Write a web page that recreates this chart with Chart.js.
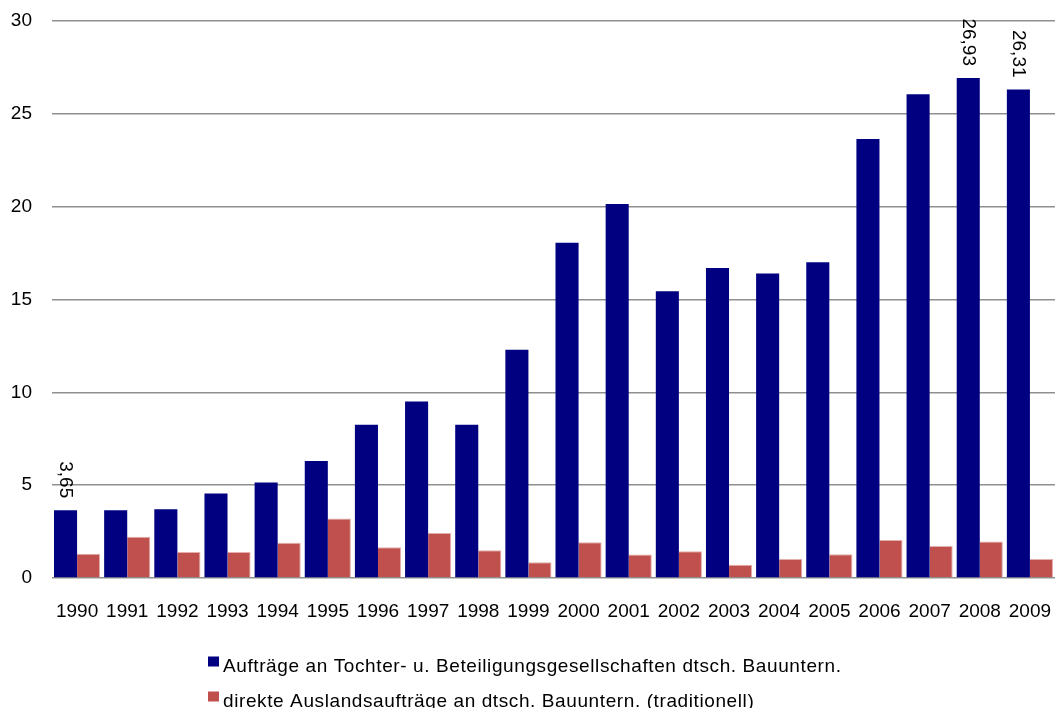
<!DOCTYPE html>
<html>
<head>
<meta charset="utf-8">
<script src="https://cdn.jsdelivr.net/npm/chart.js@4/dist/chart.umd.min.js"></script>
<style>
  html, body { margin: 0; padding: 0; background: #fff; }
  #wrap { width: 1056px; height: 708px; position: relative; overflow: hidden; }
</style>
</head>
<body>
<div id="wrap"><canvas id="chart" width="1056" height="708"></canvas></div>
<script>
// Auslandsaufträge deutscher Bauunternehmen, Mrd. Euro
const years = ['1990', '1991', '1992', '1993', '1994', '1995', '1996', '1997', '1998', '1999',
               '2000', '2001', '2002', '2003', '2004', '2005', '2006', '2007', '2008', '2009'];

const tochterAuftraege = [3.65, 3.65, 3.7, 4.55, 5.15, 6.3, 8.25, 9.5, 8.25, 12.3,
                          18.05, 20.15, 15.45, 16.7, 16.4, 17.0, 23.65, 26.05, 26.93, 26.31];

const direktAuftraege = [1.3, 2.22, 1.4, 1.4, 1.9, 3.2, 1.66, 2.43, 1.5, 0.85,
                         1.93, 1.26, 1.44, 0.72, 1.02, 1.28, 2.05, 1.72, 1.97, 1.02];

const seriesNames = [
  'Aufträge an Tochter- u. Beteiligungsgesellschaften dtsch. Bauuntern.',
  'direkte Auslandsaufträge an dtsch. Bauuntern. (traditionell)'
];

// years whose first-series bar carries its value
const labelledYears = ['1990', '2008', '2009'];

const yTicks = [0, 5, 10, 15, 20, 25, 30];

const FONT = '"Liberation Sans", Arial, sans-serif';

// rotated value labels above the marked bars
const valueLabels = {
  id: 'valueLabels',
  afterDatasetsDraw(chart) {
    const ctx = chart.ctx;
    const meta = chart.getDatasetMeta(0);
    const values = chart.data.datasets[0].data;
    ctx.save();
    ctx.font = '19px ' + FONT;
    ctx.fillStyle = '#000';
    ctx.textAlign = 'right';
    ctx.textBaseline = 'middle';
    chart.data.labels.forEach((yr, i) => {
      if (!labelledYears.includes(yr)) return;
      const bar = meta.data[i];
      const txt = values[i].toFixed(2).replace('.', ',');
      ctx.save();
      ctx.translate(bar.x, bar.y - 12);
      ctx.rotate(Math.PI / 2);
      ctx.fillText(txt, 0, 0);
      ctx.restore();
    });
    ctx.restore();
  }
};

// legend: one series per row, rows left-aligned, block centred
const stackedLegend = {
  id: 'stackedLegend',
  afterDraw(chart, args, opts) {
    const ctx = chart.ctx;
    ctx.save();
    ctx.font = opts.fontSize + 'px ' + FONT;
    if ('letterSpacing' in ctx) ctx.letterSpacing = opts.spacing;
    const items = chart.data.datasets.map(ds => ({
      text: ds.label,
      color: ds.backgroundColor,
      w: ctx.measureText(ds.label).width
    }));
    const boxW = 11, boxH = 10, gap = 4;
    const blockW = Math.max(...items.map(it => it.w)) + boxW + gap;
    const left = Math.round((chart.width - blockW) / 2) - 3;
    items.forEach((it, i) => {
      const base = opts.firstBaseline + i * opts.rowGap;
      ctx.fillStyle = it.color;
      ctx.fillRect(left, base - 15, boxW, boxH);
      ctx.fillStyle = '#000';
      ctx.textAlign = 'left';
      ctx.textBaseline = 'alphabetic';
      ctx.fillText(it.text, left + boxW + gap, base);
    });
    ctx.restore();
  }
};

new Chart(document.getElementById('chart'), {
  type: 'bar',
  data: {
    labels: years,
    datasets: [
      {
        label: seriesNames[0],
        data: tochterAuftraege,
        backgroundColor: '#000080',
        borderWidth: 0,
        categoryPercentage: 0.92,
        barPercentage: 1.0
      },
      {
        label: seriesNames[1],
        data: direktAuftraege,
        backgroundColor: '#C0504D',
        borderColor: '#E3AEAC',
        borderWidth: { top: 1, right: 1, left: 0, bottom: 0 },
        categoryPercentage: 0.92,
        barPercentage: 1.0
      }
    ]
  },
  options: {
    responsive: false,
    animation: false,
    devicePixelRatio: 1,
    layout: { padding: { top: 21, right: 1, left: 0, bottom: 0 } },
    plugins: {
      legend: { display: false },
      tooltip: { enabled: false },
      stackedLegend: { fontSize: 19, spacing: '0.6px', firstBaseline: 671.5, rowGap: 35 }
    },
    scales: {
      x: {
        grid: { display: false },
        border: { display: false },
        ticks: {
          color: '#000',
          font: { family: FONT, size: 19 },
          padding: 14,
          maxRotation: 0,
          autoSkip: false
        },
        afterFit(scale) {
          scale.height = 130;
          scale.paddingLeft = 0;
          scale.paddingRight = 0;
        }
      },
      y: {
        min: 0,
        max: 30,
        afterBuildTicks(scale) { scale.ticks = yTicks.map(v => ({ value: v })); },
        grid: { color: '#8f8f8f', lineWidth: 1.5, drawTicks: false },
        border: { display: false },
        ticks: {
          color: '#000',
          font: { family: FONT, size: 19 },
          padding: 20
        },
        afterFit(scale) {
          scale.width = 52;
          scale.paddingTop = 0;
          scale.paddingBottom = 0;
        }
      }
    }
  },
  plugins: [valueLabels, stackedLegend]
});
</script>
</body>
</html>
